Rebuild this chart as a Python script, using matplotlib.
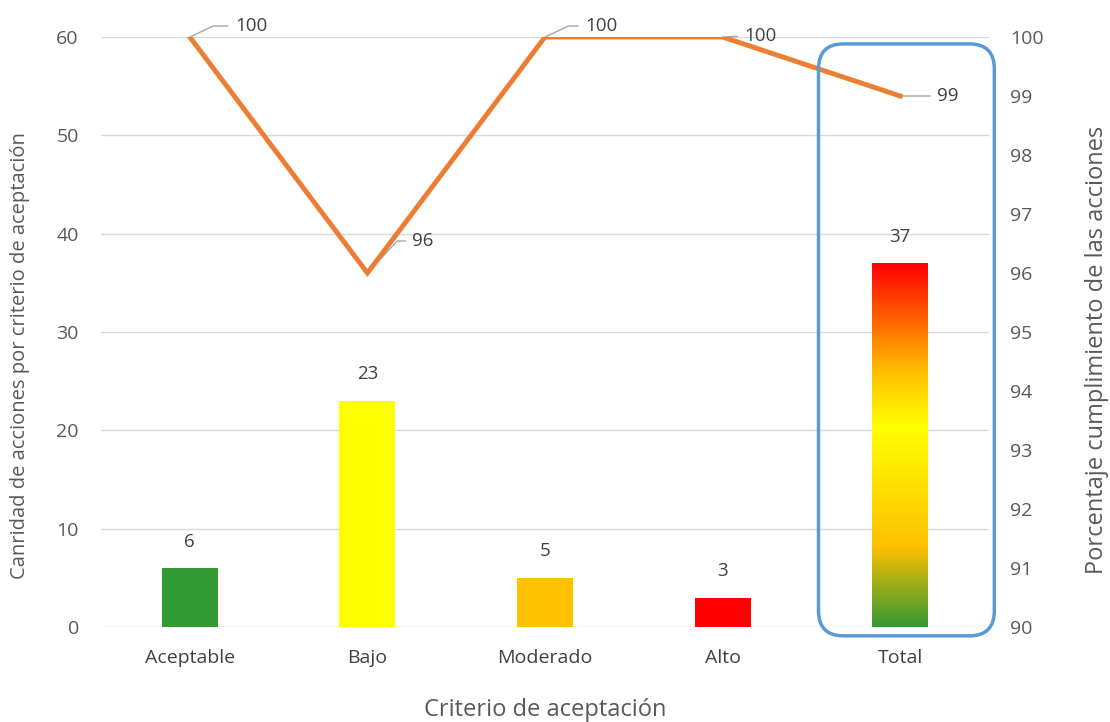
import numpy as np
import matplotlib
matplotlib.use("Agg")
import matplotlib.pyplot as plt
from matplotlib.colors import LinearSegmentedColormap
from matplotlib.patches import FancyBboxPatch
from matplotlib.transforms import IdentityTransform

plt.rcParams['font.family'] = ['Open Sans', 'DejaVu Sans']

# data
categorias = ['Aceptable', 'Bajo', 'Moderado', 'Alto', 'Total']
cantidad = [6, 23, 5, 3, 37]
cumplimiento = [100, 96, 100, 100, 99]
colores_barras = ['#339933', '#ffff00', '#ffc000', '#ff0000', None]

# label offsets for the line labels (pixels): dx, dy, leader angle at the point
offsets = [(45, 11, 25), (45, 32, 47), (40, 11, 25), (22, 1, 0), (37, 0, 0)]

fig = plt.figure(figsize=(11.1, 7.22), dpi=100)
ax = fig.add_axes([101 / 1110, 95 / 722, 888 / 1110, 590 / 722])
ax2 = ax.twinx()

x = np.arange(len(categorias))
ancho = 0.315

# bars
for i, (v, c) in enumerate(zip(cantidad, colores_barras)):
    if c is not None:
        ax.bar(i, v, width=ancho, color=c, zorder=3)
    else:
        # gradient bar for the total
        cmap = LinearSegmentedColormap.from_list(
            'total', [(0.0, '#339933'), (0.22, '#ffc000'), (0.55, '#ffff00'),
                      (0.70, '#ffc000'), (1.0, '#ff0000')])
        grad = np.linspace(0, 1, 256).reshape(-1, 1)
        ax.imshow(grad, cmap=cmap, origin='lower', aspect='auto',
                  extent=[i - ancho / 2, i + ancho / 2, 0, v], zorder=3)
    ax.annotate(str(v), (i, v), xytext=(0, 19), textcoords='offset points',
                ha='center', va='center', fontsize=13.5, color='#404040')

ax.set_xlim(-0.5, len(categorias) - 0.5)
ax.set_ylim(0, 60)
ax.set_yticks(range(0, 61, 10))
ax.set_xticks(x)
ax.set_xticklabels(categorias)
ax.grid(axis='y', color='#d9d9d9', lw=1, zorder=0)
ax.set_axisbelow(True)
ax.tick_params(axis='y', length=0, pad=16, labelsize=14, labelcolor='#595959')
ax.tick_params(axis='x', length=0, pad=16, labelsize=14, labelcolor='#404040')
for s in ax.spines.values():
    s.set_visible(False)
ax.set_ylabel('Canridad de acciones por criterio de aceptación', fontsize=14.5,
              color='#595959', va='center')
ax.yaxis.set_label_coords(-81 / 888, 0.46)
ax.set_xlabel('Criterio de aceptación', fontsize=17, color='#595959', va='center')
ax.xaxis.set_label_coords(0.5, -83 / 590)

# line on secondary axis
ax2.plot(x, cumplimiento, color='#ed7d31', lw=3.5, zorder=4, solid_joinstyle='miter')
ax2.set_ylim(90, 100)
ax2.set_yticks(range(90, 101))
ax2.tick_params(axis='y', length=0, pad=15, labelsize=14, labelcolor='#595959')
for s in ax2.spines.values():
    s.set_visible(False)
ax2.set_ylabel('Porcentaje cumplimiento de las acciones', fontsize=17,
               color='#595959', va='center')
ax2.yaxis.set_label_coords(996 / 888, 0.47)

for i, (v, (dx, dy, ang)) in enumerate(zip(cumplimiento, offsets)):
    if ang:
        cs = 'angle,angleA=0,angleB=%d,rad=0' % ang
    else:
        cs = 'arc3'
    ax2.annotate(str(v), (i, v), xytext=(dx * 0.72, dy * 0.72),
                 textcoords='offset points', ha='left', va='center',
                 fontsize=13.5, color='#404040',
                 arrowprops=dict(arrowstyle='-', color='#a6a6a6', lw=1,
                                 shrinkA=3, shrinkB=0, relpos=(0, 0.5),
                                 connectionstyle=cs))

# rounded highlight box around the total
fig.canvas.draw()
x0, y0 = ax.transData.transform((3.54, -0.9))
x1, y1 = ax.transData.transform((4.53, 59.3))
caja = FancyBboxPatch((x0, y0), x1 - x0, y1 - y0,
                      boxstyle='round,pad=0,rounding_size=25',
                      transform=IdentityTransform(), fill=False,
                      edgecolor='#5b9bd5', lw=2.5, zorder=10)
fig.patches.append(caja)

fig.savefig('out.png', dpi=100)
